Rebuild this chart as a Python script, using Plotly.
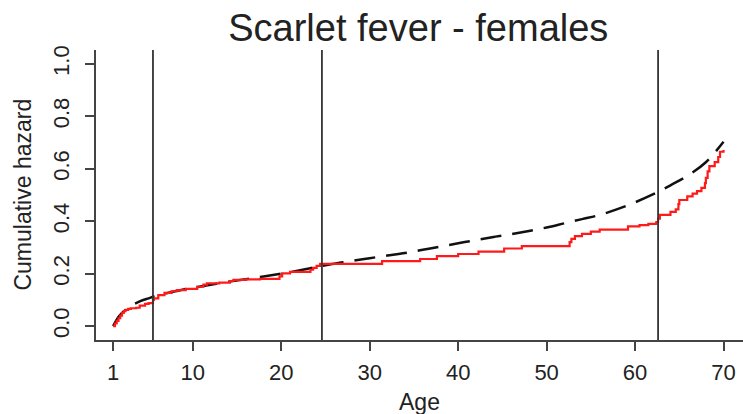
import plotly.graph_objects as go

# ---- data ----
fit_age = [1, 1.5, 2, 3, 4, 5, 6, 8, 10, 12, 14, 16, 18, 20, 22, 24, 26, 28, 30, 32,
           34, 36, 38, 40, 42, 44, 46, 48, 50, 52, 54, 56, 58, 60, 62, 64, 66, 68, 70]
fit_hazard = [0.0, 0.03, 0.05, 0.077, 0.094, 0.106, 0.117, 0.133, 0.146, 0.158, 0.169,
              0.179, 0.189, 0.2, 0.212, 0.226, 0.238, 0.249, 0.259, 0.269, 0.279, 0.291,
              0.303, 0.316, 0.328, 0.34, 0.351, 0.363, 0.376, 0.392, 0.408, 0.424, 0.446,
              0.472, 0.502, 0.537, 0.575, 0.625, 0.703]

obs_age = [1.0, 1.2, 1.4, 1.6, 1.8, 2.0, 2.2, 2.4, 2.7, 3.0, 3.6, 4.0, 4.6, 5.0, 5.5, 5.6,
           6.1, 6.8, 7.6, 8.2, 9.2, 10.5, 11.2, 11.6, 13.0, 14.2, 14.6, 16.0, 17.6, 19.8,
           20.1, 21.0, 23.3, 23.6, 24.0, 24.4, 31.4, 35.7, 37.6, 40.0, 42.3, 45.2, 47.2,
           52.6, 52.8, 53.2, 54.0, 55.0, 56.0, 59.2, 60.5, 61.5, 62.4, 62.6, 62.8, 64.0,
           64.6, 64.9, 65.0, 65.9, 66.5, 67.0, 67.5, 67.9, 68.0, 68.2, 68.4, 69.0, 69.4,
           69.6, 70.0]
obs_hazard = [0.0, 0.01, 0.02, 0.03, 0.04, 0.05, 0.057, 0.062, 0.066, 0.068, 0.07, 0.078,
              0.085, 0.088, 0.1, 0.106, 0.118, 0.127, 0.133, 0.137, 0.142, 0.15, 0.158,
              0.163, 0.166, 0.172, 0.176, 0.178, 0.18, 0.19, 0.201, 0.207, 0.215, 0.222,
              0.23, 0.237, 0.248, 0.256, 0.267, 0.275, 0.284, 0.296, 0.305, 0.32, 0.333,
              0.343, 0.352, 0.36, 0.368, 0.38, 0.385, 0.39, 0.397, 0.41, 0.424, 0.436,
              0.445, 0.465, 0.481, 0.495, 0.505, 0.515, 0.527, 0.545, 0.565, 0.59, 0.61,
              0.625, 0.645, 0.665, 0.672]

cut_ages = [5.5, 24.6, 62.6]
x_ticks = [1, 10, 20, 30, 40, 50, 60, 70]
y_ticks = [0.0, 0.2, 0.4, 0.6, 0.8, 1.0]
y_tick_text = ["0.0", "0.2", "0.4", "0.6", "0.8", "1.0"]

FONT = "Liberation Sans, Arial, sans-serif"
AX = "#444444"
TXT = "#222222"

fig = go.Figure()
fig.add_trace(go.Scatter(x=fit_age, y=fit_hazard, mode="lines",
                         line=dict(color="#111111", width=2.5, dash="21px,11px"),
                         line_shape="spline", hoverinfo="skip"))
fig.add_trace(go.Scatter(x=obs_age, y=obs_hazard, mode="lines",
                         line=dict(color="#ff1a1a", width=2.2), line_shape="hv",
                         hoverinfo="skip"))

for a in cut_ages:
    fig.add_shape(type="line", xref="x", yref="paper", x0=a, x1=a, y0=0, y1=1.0,
                  line=dict(color="#333333", width=1.8))

fig.update_layout(
    width=743, height=414,
    margin=dict(l=95.5, r=0, t=50, b=74),
    paper_bgcolor="white", plot_bgcolor="white",
    showlegend=False,
    font=dict(family=FONT, color=TXT, size=22),
    title=dict(text="Scarlet fever - females", x=0.563, xanchor="center",
               y=1 - 28 / 414, yanchor="middle", font=dict(size=38, color=TXT)),
)
fig.update_xaxes(range=[-0.94, 72.2], tickvals=x_ticks, ticks="outside", ticklen=9,
                 tickwidth=1.5, tickcolor=AX, showline=True, linecolor=AX, linewidth=1.5,
                 showgrid=False, zeroline=False, ticklabelstandoff=3,
                 tickfont=dict(size=22, color=TXT))
fig.update_yaxes(range=[-0.053, 1.053], tickvals=y_ticks, ticktext=y_tick_text,
                 ticks="outside", ticklen=9, tickwidth=1.5, tickcolor=AX, showline=True,
                 linecolor=AX, linewidth=1.5, showgrid=False, zeroline=False,
                 tickangle=-90, ticklabelstandoff=7, tickfont=dict(size=22, color=TXT))

fig.add_annotation(text="Age", xref="paper", yref="paper", x=0.5, y=(340 - 402) / 290,
                   xanchor="center", yanchor="middle", showarrow=False,
                   font=dict(size=23, color=TXT))
fig.add_annotation(text="Cumulative hazard", xref="paper", yref="paper",
                   x=(22 - 95.5) / 647.5, y=0.5, xanchor="center", yanchor="middle",
                   textangle=-90, showarrow=False, font=dict(size=23, color=TXT))

fig.write_html("out.html")
